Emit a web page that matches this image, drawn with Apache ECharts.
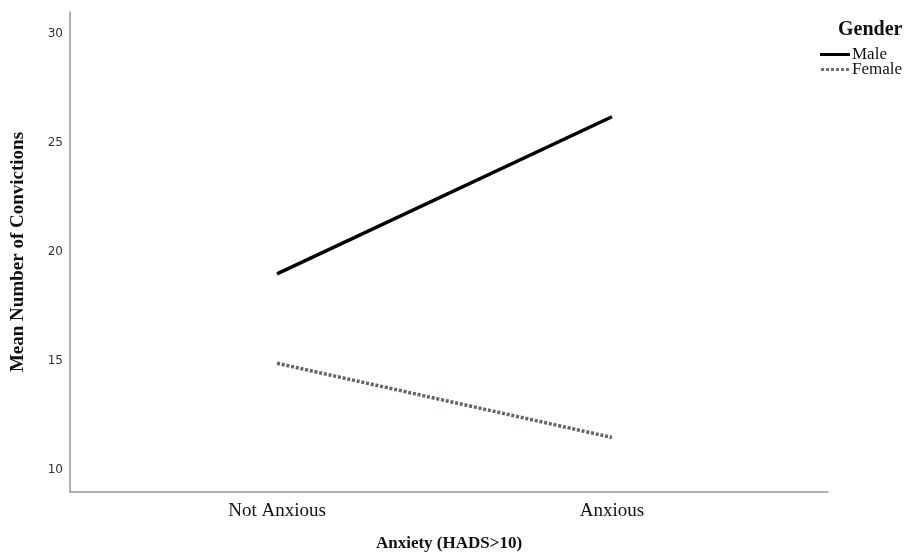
<!DOCTYPE html>
<html>
<head>
<meta charset="utf-8">
<script src="https://cdn.jsdelivr.net/npm/echarts@6/dist/echarts.min.js"></script>
<style>html,body{margin:0;padding:0;background:#fff}#c{width:913px;height:557px}</style>
</head>
<body>
<div id="c"></div>
<script>
const categories = ['Not Anxious', 'Anxious'];
const maleValues = [19.0, 26.2];
const femaleValues = [14.9, 11.5];
const yTicks = [10, 15, 20, 25, 30];

const chart = echarts.init(document.getElementById('c'));
const serif = '"Liberation Serif", "Times New Roman", serif';
const maleIcon = 'path://M0,0h30v3h-30z';
const femaleIcon = 'path://M0,0h3v3h-3z M5,0h3v3h-3z M10,0h3v3h-3z M15,0h3v3h-3z M20,0h3v3h-3z M25,0h3v3h-3z';
chart.setOption({
  animation: false,
  backgroundColor: '#fff',
  grid: { left: 70, top: 12, width: 758, height: 480, containLabel: false, outerBoundsMode: 'none' },
  title: {
    text: 'Gender', left: 833, top: 15,
    textStyle: { fontFamily: serif, fontSize: 20, fontWeight: 'bold', color: '#111' }
  },
  legend: {
    orient: 'vertical', left: 815, top: 41, itemGap: -2,
    itemWidth: 30, itemHeight: 3,
    textStyle: { fontFamily: serif, fontSize: 17, lineHeight: 15, color: '#111', padding: [0, 0, 0, -3] },
    data: [
      { name: 'Male', icon: maleIcon, itemStyle: { color: '#000' } },
      { name: 'Female', icon: femaleIcon, itemStyle: { color: '#6a7676' } }
    ]
  },
  xAxis: {
    type: 'value', min: -0.618, max: 1.645,
    name: 'Anxiety (HADS>10)', nameLocation: 'middle', nameGap: 43,
    nameTextStyle: { fontFamily: serif, fontSize: 17, fontWeight: 'bold', color: '#111' },
    splitLine: { show: false },
    axisLine: { show: true, onZero: false, lineStyle: { color: '#999', width: 1.5 } },
    axisTick: { show: false },
    axisLabel: {
      customValues: [0, 1], margin: 10,
      formatter: v => categories[Math.round(v)] || '',
      fontFamily: serif, fontSize: 19, color: '#111'
    }
  },
  yAxis: {
    type: 'value', min: 9, max: 31,
    name: 'Mean Number of Convictions', nameLocation: 'middle', nameGap: 42,
    nameTextStyle: { fontFamily: serif, fontSize: 19, fontWeight: 'bold', color: '#111' },
    splitLine: { show: false },
    axisLine: { show: true, onZero: false, lineStyle: { color: '#999', width: 1.5 } },
    axisTick: { show: false },
    axisLabel: {
      customValues: yTicks, margin: 7,
      fontFamily: '"DejaVu Sans", sans-serif', fontSize: 12, color: '#333'
    }
  },
  series: [
    {
      name: 'Male', type: 'line', symbol: 'none',
      data: maleValues.map((v, i) => [i, v]),
      lineStyle: { color: '#000', width: 3.5 }, itemStyle: { color: '#000' }
    },
    {
      name: 'Female', type: 'line', symbol: 'none',
      data: femaleValues.map((v, i) => [i, v]),
      lineStyle: { color: '#5d6868', width: 3.5, type: [3, 1.8] }, itemStyle: { color: '#5d6868' }
    }
  ]
});
</script>
</body>
</html>
